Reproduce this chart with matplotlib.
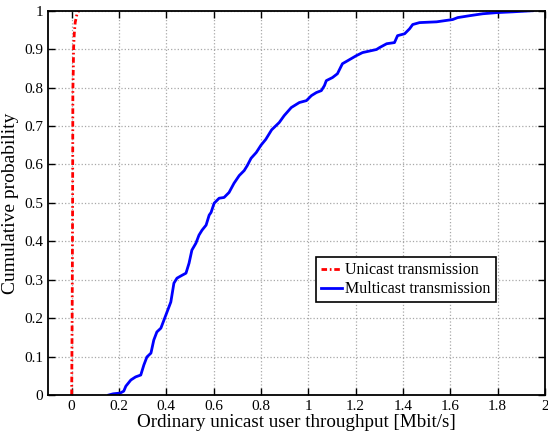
import matplotlib
matplotlib.use("Agg")
import matplotlib.pyplot as plt
from matplotlib.ticker import FormatStrFormatter, FixedLocator

plt.rcParams['font.family'] = ['Liberation Serif', 'DejaVu Serif']
plt.rcParams['mathtext.fontset'] = 'stix'

# Unicast transmission CDF
uni_x = [0.0, 0.002, 0.004, 0.005, 0.007, 0.008, 0.011, 0.015, 0.022, 0.03]
uni_y = [0.0, 0.2, 0.5, 0.79, 0.85, 0.9, 0.94, 0.97, 0.99, 1.0]

# Multicast transmission CDF
multi_x = [0.157, 0.175, 0.205, 0.220, 0.229, 0.250, 0.270, 0.292, 0.305, 0.318, 0.335,
           0.347, 0.360, 0.377, 0.390, 0.403, 0.419, 0.432, 0.445, 0.465, 0.483,
           0.496, 0.508, 0.525, 0.538, 0.551, 0.568, 0.581, 0.589, 0.602, 0.623,
           0.644, 0.665, 0.686, 0.708, 0.729, 0.742, 0.758, 0.780, 0.800, 0.820,
           0.845, 0.877, 0.898, 0.928, 0.962, 0.992, 1.013, 1.034, 1.055, 1.068,
           1.076, 1.102, 1.123, 1.144, 1.161, 1.203, 1.229, 1.288, 1.301, 1.331,
           1.364, 1.377, 1.407, 1.428, 1.441, 1.470, 1.542, 1.610, 1.631, 1.682,
           1.737, 1.797, 1.864, 1.949]
multi_y = [0.0, 0.003, 0.005, 0.010, 0.023, 0.039, 0.047, 0.052, 0.078, 0.099, 0.109,
           0.143, 0.164, 0.174, 0.195, 0.216, 0.242, 0.291, 0.304, 0.311, 0.317,
           0.343, 0.377, 0.395, 0.416, 0.429, 0.442, 0.468, 0.475, 0.499, 0.512,
           0.514, 0.527, 0.551, 0.571, 0.584, 0.597, 0.616, 0.631, 0.650, 0.665,
           0.690, 0.709, 0.727, 0.748, 0.761, 0.766, 0.779, 0.787, 0.792, 0.805,
           0.818, 0.826, 0.836, 0.862, 0.868, 0.883, 0.891, 0.899, 0.904, 0.914,
           0.917, 0.935, 0.940, 0.953, 0.964, 0.969, 0.971, 0.977, 0.982, 0.987,
           0.992, 0.995, 0.997, 1.0]

x_ticks = [0, 0.2, 0.4, 0.6, 0.8, 1, 1.2, 1.4, 1.6, 1.8, 2]
y_ticks = [0, 0.1, 0.2, 0.3, 0.4, 0.5, 0.6, 0.7, 0.8, 0.9, 1]

fig = plt.figure(figsize=(5.48, 4.38), dpi=100)
ax = fig.add_axes([0.0876, 0.0982, 0.9069, 0.8774])

ax.plot(uni_x, uni_y, color='red', linestyle=(0, (2.0, 1.0, 0.6, 1.0)), linewidth=2,
        label='Unicast transmission')
ax.plot(multi_x, multi_y, color='blue', linestyle='-', linewidth=2, label='Multicast transmission')

ax.set_xlim(-0.1, 2)
ax.set_ylim(0, 1)
ax.xaxis.set_major_locator(FixedLocator(x_ticks))
ax.yaxis.set_major_locator(FixedLocator(y_ticks))
ax.xaxis.set_major_formatter(FormatStrFormatter('%g'))
ax.yaxis.set_major_formatter(FormatStrFormatter('%g'))
ax.tick_params(direction='in', top=True, right=True, labelsize=11, length=5, width=1)
ax.grid(True, linestyle=':', color='#a8a8a8', linewidth=0.9)
for s in ax.spines.values():
    s.set_linewidth(1.3)

ax.set_xlabel('Ordinary unicast user throughput [Mbit/s]', fontsize=13.7, labelpad=1)
ax.set_ylabel('Cumulative probability', fontsize=14, labelpad=4)

leg = ax.legend(loc='upper left', bbox_to_anchor=(0.539, 0.358), fontsize=11.5,
                frameon=True, fancybox=False, edgecolor='black', framealpha=1,
                handlelength=1.35, borderpad=0.3, labelspacing=0.2, handletextpad=0.2,
                borderaxespad=0)
leg.get_frame().set_linewidth(1.2)

fig.savefig('out.png', dpi=100)
